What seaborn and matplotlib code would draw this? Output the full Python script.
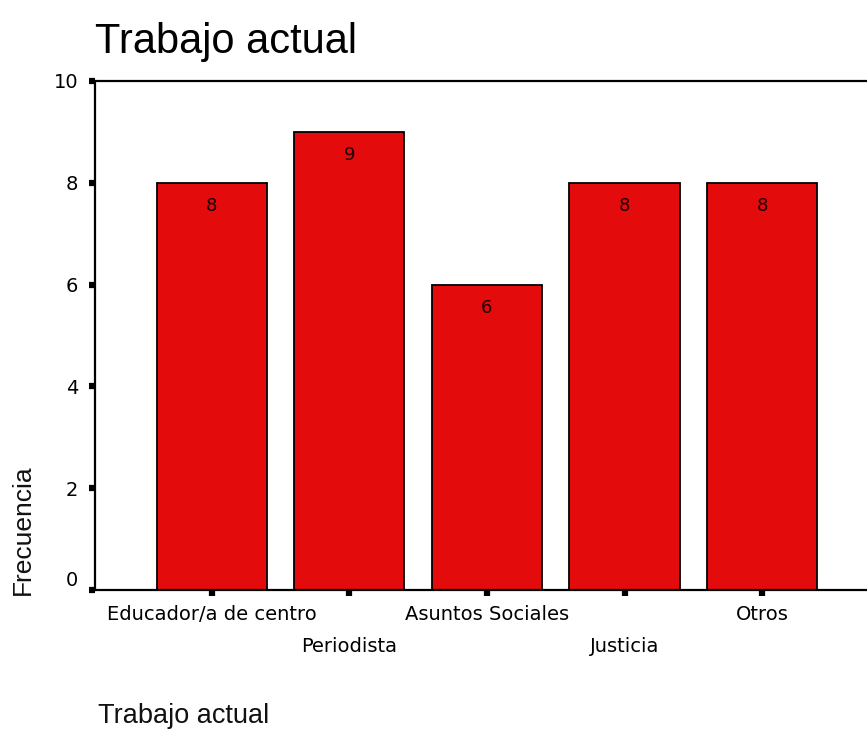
import matplotlib
matplotlib.use("Agg")
import matplotlib.pyplot as plt
import seaborn as sns
import pandas as pd

categories = ["Educador/a de centro", "Periodista", "Asuntos Sociales", "Justicia", "Otros"]
frecuencias = [8, 9, 6, 8, 8]
yticks = [0, 2, 4, 6, 8, 10]

sns.set_theme(style="white")
plt.rcParams["font.family"] = ["DejaVu Sans"]

df = pd.DataFrame({"cat": categories, "freq": frecuencias})

fig = plt.figure(figsize=(8.67, 7.29), dpi=100)
ax = fig.add_axes([95 / 867, 1 - 590 / 729, 1 - 95 / 867, (590 - 81) / 729])

sns.barplot(data=df, x="cat", y="freq", color="#E30B0B", saturation=1,
            edgecolor="black", linewidth=1.3, width=0.8, ax=ax)

ax.set_xlim(-0.848, 4.762)
ax.set_ylim(0, 10)
ax.set_yticks(yticks)
ax.set_yticklabels([str(v) for v in yticks])

for s in ["left", "bottom", "top"]:
    ax.spines[s].set_visible(True)
    ax.spines[s].set_color("black")
    ax.spines[s].set_linewidth(1.6)
ax.spines["right"].set_visible(False)

ax.tick_params(axis="both", which="major", direction="out", length=4, width=4.5,
               color="black", labelsize=14, labelcolor="black",
               bottom=True, left=True, top=False, right=False)
ax.tick_params(axis="y", pad=8)
ax.tick_params(axis="x", pad=7)

for i, t in enumerate(ax.xaxis.get_major_ticks()):
    if i % 2 == 1:
        t.set_pad(30)
ax.get_yticklabels()[0].set_va("bottom")

for cont in ax.containers:
    ax.bar_label(cont, padding=-23, fontsize=13, color="#1a0000")

ax.set_title("Trabajo actual", loc="left", fontsize=30, family="Liberation Sans",
             pad=20, x=0.0, color="black")
ax.set_xlabel("Trabajo actual", loc="left", fontsize=19.5, family="Liberation Sans",
              color="#111111")
ax.xaxis.set_label_coords(0.004, -0.222)
ax.set_ylabel("Frecuencia", loc="bottom", fontsize=19, family="Liberation Sans",
              color="#111111")
ax.yaxis.set_label_coords(-0.078, -0.01)

fig.savefig("out.png", dpi=100)
